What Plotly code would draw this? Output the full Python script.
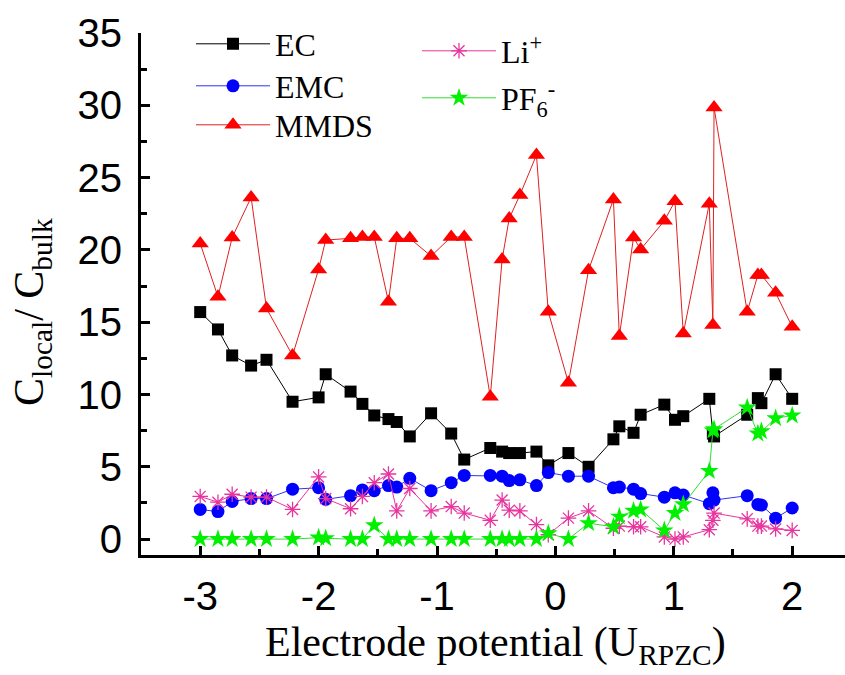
import plotly.graph_objects as go

potential = [-3.0, -2.85, -2.73, -2.57, -2.44, -2.22, -2.0, -1.94, -1.73, -1.63,
             -1.53, -1.41, -1.34, -1.23, -1.05, -0.88, -0.77, -0.55, -0.45, -0.39,
             -0.30, -0.16, -0.06, 0.11, 0.28, 0.49, 0.54, 0.66, 0.72, 0.92,
             1.01, 1.08, 1.30, 1.33, 1.34, 1.62, 1.71, 1.74, 1.86, 2.0]

ec = [15.7, 14.5, 12.7, 12.0, 12.4, 9.5, 9.8, 11.4, 10.2, 9.35,
      8.55, 8.3, 8.1, 7.1, 8.7, 7.3, 5.5, 6.3, 6.05, 5.95,
      5.95, 6.05, 5.1, 5.95, 5.0, 6.9, 7.8, 7.35, 8.6, 9.3,
      8.25, 8.5, 9.7, 7.3, 7.1, 8.6, 9.75, 9.4, 11.4, 9.7]

emc = [2.05, 1.9, 2.6, 2.8, 2.8, 3.45, 3.55, 2.75, 3.0, 3.4,
       3.35, 3.7, 3.6, 4.2, 3.35, 3.9, 4.4, 4.4, 4.35, 4.05,
       4.1, 3.7, 4.6, 4.35, 4.35, 3.55, 3.6, 3.45, 3.15, 2.9,
       3.2, 3.05, 2.45, 3.2, 2.7, 3.0, 2.4, 2.35, 1.45, 2.15]

mmds = [20.45, 16.76, 20.86, 23.63, 15.95, 12.7, 18.65, 20.68, 20.8, 20.9,
        20.9, 16.41, 20.8, 20.8, 19.57, 20.9, 20.9, 9.84, 19.34, 22.18,
        23.79, 26.56, 15.72, 10.81, 18.6, 23.49, 14.04, 20.86, 20.03, 22.01,
        23.37, 14.22, 23.2, 14.8, 29.85, 15.72, 18.26, 18.26, 17.03, 14.68]

li = [2.95, 2.55, 3.1, 2.9, 2.9, 2.05, 4.3, 2.8, 2.1, 2.95,
      3.9, 4.5, 1.95, 3.5, 1.95, 2.25, 1.8, 1.3, 2.7, 2.0,
      1.95, 1.0, 0.3, 1.45, 1.95, 0.75, 0.9, 0.85, 0.85, 0.15,
      0.0, 0.15, 0.65, 1.3, 1.8, 1.4, 0.9, 0.9, 0.7, 0.6]

pf6 = [0, 0, 0, 0, 0, 0, 0.1, 0.05, 0, 0,
       0.95, 0, 0, 0, 0, 0, 0, 0, 0, 0,
       0, 0, 0.4, 0, 1.1, 0.85, 1.55, 1.95, 2.05, 0.6,
       1.8, 2.4, 4.7, 7.5, 7.6, 9.1, 7.3, 7.45, 8.35, 8.55]

x_ticks = [-3, -2, -1, 0, 1, 2]
y_ticks = [0, 5, 10, 15, 20, 25, 30, 35]

SERIF = "Liberation Serif, Times New Roman, serif"
SANS = "Liberation Sans, Arial, sans-serif"

L, T, B = 141, 33, 120
W, H = 845, 675
pw, ph = W - L, H - T - B


def px_x(p):
    return (p - L) / pw


def px_y(p):
    return (H - B - p) / ph


fig = go.Figure()


def add(y, name, color, symbol, size, legend, lw=1, mline=None, lcolor=None):
    marker = dict(symbol=symbol, size=size, color=color)
    if mline:
        marker["line"] = mline
    fig.add_trace(go.Scatter(x=potential, y=y, name=name, mode="lines+markers",
                             line=dict(color=lcolor or color, width=lw), marker=marker,
                             legend=legend))


add(ec, "EC", "#000000", "square", 12, "legend")
add(emc, "EMC", "#0000ff", "circle", 13, "legend2", lcolor="#3333ee")
add(mmds, "MMDS", "#ff0000", "triangle-up", 15, "legend3", lcolor="#e02020")
add(li, "Li<sup>+</sup>", "#e8359e", "asterisk-open", 13, "legend4",
    mline=dict(color="#e8359e", width=1.3))
add(pf6, "PF<sub>6</sub><sup>-</sup>", "#00f000", "star", 14, "legend5", lcolor="#33dd33")

axis_common = dict(showgrid=False, zeroline=False, showline=True, linecolor="black",
                   linewidth=3, ticks="inside", ticklen=9, tickwidth=2.5, tickcolor="black",
                   tickfont=dict(family=SANS, size=40, color="black"))


def leg(mx, cy):
    return dict(x=px_x(mx - 39), y=px_y(cy), xanchor="left", yanchor="middle",
                font=dict(family=SERIF, size=32, color="black"),
                bgcolor="rgba(0,0,0,0)", itemwidth=74, tracegroupgap=0)


fig.update_layout(
    width=W, height=H,
    margin=dict(l=L, r=0, t=T, b=B),
    paper_bgcolor="white", plot_bgcolor="white",
    xaxis=dict(range=[-3.5, 2.446], tickvals=x_ticks, ticktext=[str(v) for v in x_ticks],
               minor=dict(ticks="inside", ticklen=6, tickwidth=2.5, dtick=0.5, tick0=-3,
                          tickcolor="black"),
               ticklabelstandoff=4, **axis_common),
    yaxis=dict(range=[-1.1, 35], tickvals=y_ticks, ticktext=[str(v) for v in y_ticks],
               minor=dict(ticks="inside", ticklen=6, tickwidth=2.5, dtick=2.5, tick0=0,
                          tickcolor="black"),
               ticklabelstandoff=8, **axis_common),
    legend=leg(230, 44),
    legend2=leg(230, 86),
    legend3=leg(230, 125),
    legend4=leg(456, 51),
    legend5=leg(456, 98),
    showlegend=True,
    annotations=[
        dict(text="Electrode potential (U<sub>RPZC</sub>)", xref="paper", yref="paper",
             x=px_x(495), y=px_y(645), xanchor="center", yanchor="middle", showarrow=False,
             font=dict(family=SERIF, size=42, color="black")),
        dict(text="C<sub>local</sub>/ C<sub>bulk</sub>", xref="paper", yref="paper",
             x=px_x(32), y=px_y(312), xanchor="center", yanchor="middle", showarrow=False,
             textangle=-90, font=dict(family=SERIF, size=42, color="black")),
    ],
)

fig.write_html("out.html")
